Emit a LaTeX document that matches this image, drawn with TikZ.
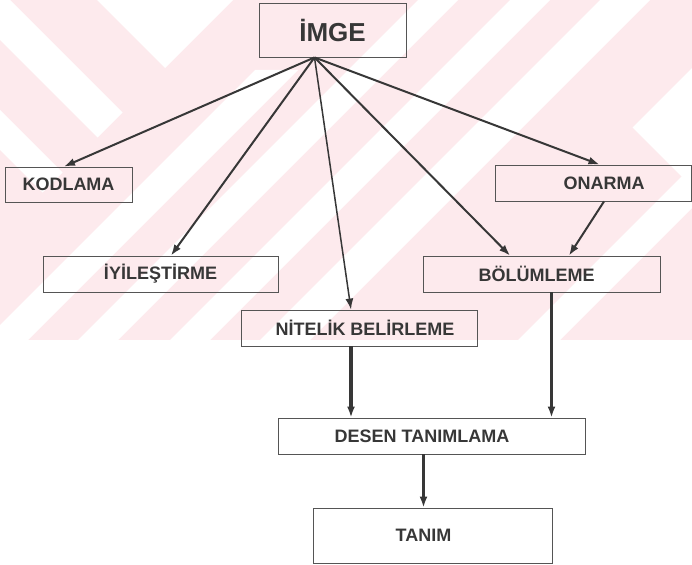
\documentclass[tikz,border=0pt]{standalone}
\usepackage{fontspec}
\setmainfont{Liberation Sans}
\usetikzlibrary{positioning,arrows.meta,calc}
\definecolor{ink}{RGB}{55,55,55}
\definecolor{wmpink}{RGB}{253,234,237}
\tikzset{
  box/.style={draw=ink!85, line width=0.9pt, inner sep=0pt, text=ink,
    font=\fontsize{18}{20}\selectfont\bfseries},
  link/.style={->, draw=ink, line width=2pt},
  flow/.style={->, draw=ink, line width=3.2pt},
}

\begin{document}
\begin{tikzpicture}[x=1pt,y=-1pt,>={Latex[length=11pt,width=8pt]}]
\useasboundingbox (0,0) rectangle (692,564);

% watermark
\begin{scope}
\clip (0,0) rectangle (692,340);
\fill[wmpink] (0,0) rectangle (692,340);
\fill[white] (97,0) -- (233,0) -- (165,68) -- cycle;
\fill[white] (0,0) -- (10,0) -- (122.5,112.5) -- (97.5,137.5) -- (0,40) -- cycle;
\fill[white] (0,110) -- (62.5,172.5) -- (42.5,192.5) -- (0,150) -- cycle;
\fill[white] (-15,340) -- (28,340) -- (298,70) -- (255,70) -- cycle;
\fill[white] (78,340) -- (118,340) -- (458,0) -- (418,0) -- cycle;
\fill[white] (170,340) -- (210,340) -- (550,0) -- (510,0) -- cycle;
\fill[white] (260,340) -- (310,340) -- (650,0) -- (600,0) -- cycle;
\fill[white] (632.5,127.5) -- (692,68) -- (692,187) -- cycle;
\fill[white] (518,340) -- (560,340) -- (692,208) -- (692,166) -- cycle;
\end{scope}

\node[box, minimum width=147pt, minimum height=54pt,
  font=\fontsize{26}{28}\selectfont\bfseries] (img) at (332.5,30) {İMGE};
\node[box, minimum width=127pt, minimum height=35pt] (kod) at (68.5,184.5) {KODLAMA};
\node[box, minimum width=235pt, minimum height=36pt] (iyi) at (160.5,274) {İYİLEŞTİRME};
\node[box, minimum width=236pt, minimum height=36pt] (nit) at (359,328) {\hspace*{12pt}NİTELİK BELİRLEME};
\node[box, minimum width=196pt, minimum height=36pt] (ona) at (593,183) {\hspace*{22pt}ONARMA};
\node[box, minimum width=237pt, minimum height=36pt] (bol) at (541.5,274) {BÖLÜMLEME\hspace*{10pt}};
\node[box, minimum width=307pt, minimum height=36pt] (des) at (431.5,436) {DESEN TANIMLAMA\hspace*{19pt}};
\node[box, minimum width=239pt, minimum height=55pt] (tan) at (432.5,535.5) {TANIM\hspace*{18pt}};

\coordinate (hub) at ([xshift=-18pt]img.south);

\draw[link] (hub) -- ([xshift=-4.5pt]kod.north);
\draw[link] (hub) -- ([xshift=10.5pt]iyi.north);
\draw[link, line width=1.5pt] (hub) -- ([xshift=-8pt]nit.north);
\draw[link] (hub) -- ([xshift=-31.5pt]bol.north);
\draw[link] (hub) -- ([xshift=6.5pt]ona.north);
\draw[link] ([xshift=11pt]ona.south) -- ([xshift=27.5pt]bol.north);

\draw[flow] ([xshift=-8pt]nit.south) -- ([xshift=-80.5pt]des.north);
\draw[flow] ([xshift=10pt]bol.south) -- ([xshift=120pt]des.north);
\draw[flow] ([xshift=-8pt]des.south) -- ([xshift=-9pt]tan.north);

\end{tikzpicture}
\end{document}
